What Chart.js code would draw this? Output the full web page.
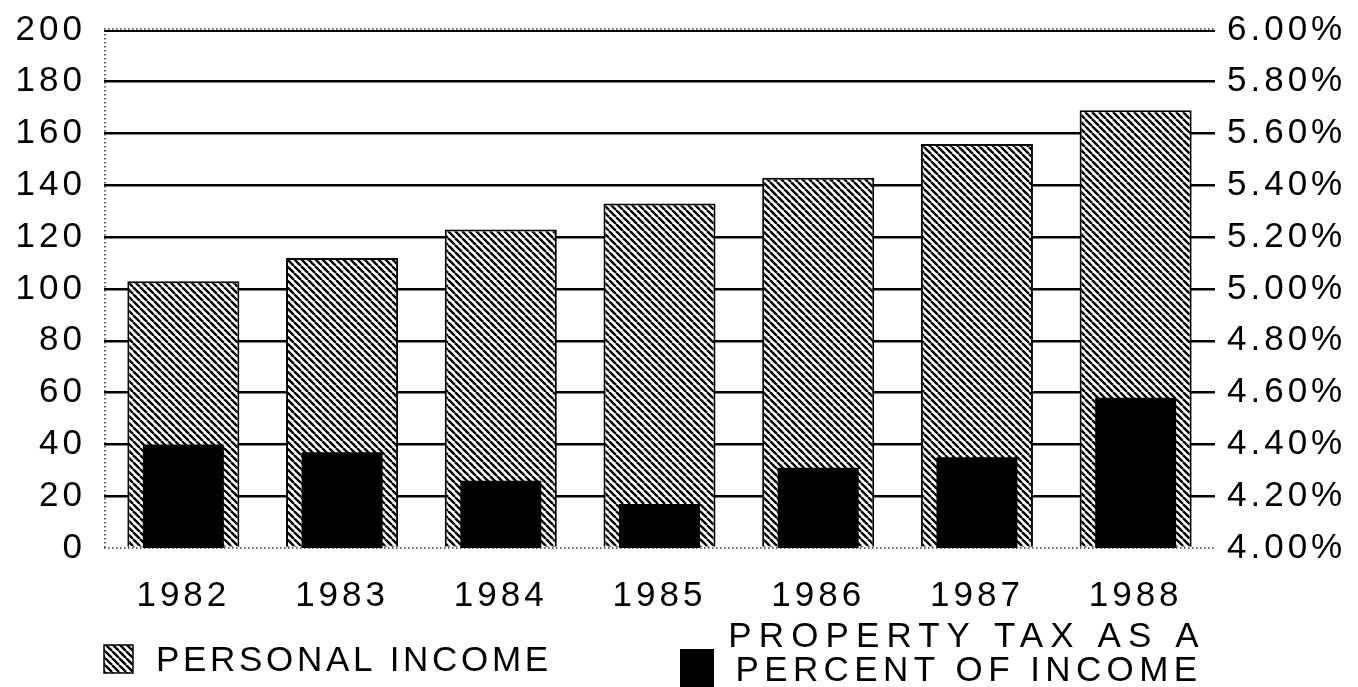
<!DOCTYPE html>
<html>
<head>
<meta charset="utf-8">
<script src="https://cdn.jsdelivr.net/npm/chart.js@4/dist/chart.umd.min.js"></script>
<style>
  html, body { margin: 0; padding: 0; background: #fff; }
  canvas { display: block; }
</style>
</head>
<body>
<canvas id="chart" width="1358" height="687"></canvas>
<script>
// data
const years = ['1982', '1983', '1984', '1985', '1986', '1987', '1988'];
const personalIncome = [103, 112, 123, 133, 143, 156, 169];
const taxPercent = [4.40, 4.37, 4.26, 4.17, 4.31, 4.35, 4.58];
const leftTicks = [0, 20, 40, 60, 80, 100, 120, 140, 160, 180, 200];
const rightTicks = [4.0, 4.2, 4.4, 4.6, 4.8, 5.0, 5.2, 5.4, 5.6, 5.8, 6.0];

const FONT = '"Liberation Sans", Arial, sans-serif';
const SPACING = '4px';

// diagonal hatch pattern (\\\)
function makeHatch() {
    const s = 7;
    const c = document.createElement('canvas');
    c.width = s; c.height = s;
    const g = c.getContext('2d');
    g.fillStyle = '#fff';
    g.fillRect(0, 0, s, s);
    g.strokeStyle = '#000';
    g.lineWidth = 2.4;
    g.beginPath();
    for (let k = -1; k <= 1; k++) {
        g.moveTo(k * s, 0);
        g.lineTo(k * s + s, s);
    }
    g.stroke();
    return g.createPattern(c, 'repeat');
}
const hatch = makeHatch();

// keep the plot top where the picture has it
function fixY(width) {
    return function (scale) {
        scale.width = width;
        scale.paddingTop = 0;
        scale.paddingBottom = 0;
    };
}

// dotted frame bits, legend + letter spacing
const framePlugin = {
    id: 'frame',
    beforeUpdate(chart) { chart.ctx.letterSpacing = SPACING; },
    beforeDraw(chart) { chart.ctx.letterSpacing = SPACING; },
    beforeDatasetsDraw(chart) {
        const ctx = chart.ctx;
        const a = chart.chartArea;
        const y = chart.scales.y;
        const top = y.getPixelForValue(200);
        const bot = y.getPixelForValue(0);
        ctx.save();
        ctx.strokeStyle = '#000';
        ctx.lineWidth = 2;
        ctx.beginPath();
        ctx.moveTo(a.left, top + 1);
        ctx.lineTo(a.right, top + 1);
        ctx.stroke();
        ctx.lineWidth = 1.5;
        ctx.setLineDash([1.5, 2.5]);
        ctx.strokeStyle = '#333';
        ctx.beginPath();
        ctx.moveTo(a.left, top - 1);
        ctx.lineTo(a.right, top - 1);
        ctx.moveTo(a.left, bot);
        ctx.lineTo(a.right, bot);
        ctx.moveTo(a.left + 1, top);
        ctx.lineTo(a.left + 1, bot);
        ctx.stroke();
        ctx.restore();
    },
    afterDraw(chart) {
        const ctx = chart.ctx;
        ctx.save();
        ctx.letterSpacing = '3.7px';
        ctx.font = '35px ' + FONT;
        ctx.textBaseline = 'middle';
        // personal income swatch
        ctx.fillStyle = hatch;
        ctx.fillRect(104, 645, 29, 28);
        ctx.strokeStyle = '#000';
        ctx.lineWidth = 1.5;
        ctx.strokeRect(104, 645, 29, 28);
        ctx.fillStyle = '#000';
        ctx.textAlign = 'left';
        ctx.fillText('PERSONAL INCOME', 156, 661);
        // property tax swatch
        ctx.fillRect(680, 649, 34, 38);
        ctx.textAlign = 'center';
        ctx.letterSpacing = '7.1px';
        ctx.fillText('PROPERTY TAX AS A', 967, 637);
        ctx.letterSpacing = '5.4px';
        ctx.fillText('PERCENT OF INCOME', 969, 671);
        ctx.restore();
    }
};

const ctx = document.getElementById('chart').getContext('2d');
new Chart(ctx, {
    type: 'bar',
    data: {
        labels: years,
        datasets: [{
            label: 'PROPERTY TAX AS A PERCENT OF INCOME',
            data: taxPercent,
            yAxisID: 'y1',
            backgroundColor: '#000',
            borderWidth: 0,
            grouped: false,
            barPercentage: 0.51,
            categoryPercentage: 1,
            order: 0
        }, {
            label: 'PERSONAL INCOME',
            data: personalIncome,
            yAxisID: 'y',
            backgroundColor: hatch,
            borderColor: '#000',
            borderWidth: 2,
            grouped: false,
            barPercentage: 0.706,
            categoryPercentage: 1,
            order: 1
        }]
    },
    options: {
        responsive: false,
        animation: false,
        layout: { padding: { top: 30, left: 0, right: 0, bottom: 0 } },
        plugins: {
            legend: { display: false },
            tooltip: { enabled: false }
        },
        scales: {
            x: {
                grid: { display: false },
                border: { display: false },
                ticks: {
                    color: '#000',
                    font: { family: FONT, size: 35 },
                    padding: 19,
                    maxRotation: 0
                },
                afterFit(scale) { scale.height = 139; }
            },
            y: {
                position: 'left',
                min: 0,
                max: 200,
                afterBuildTicks(scale) { scale.ticks = leftTicks.map(v => ({ value: v })); },
                grid: {
                    drawTicks: false,
                    color: c => (c.tick && (c.tick.value === 0 || c.tick.value === 200)) ? 'rgba(0,0,0,0)' : '#000',
                    lineWidth: 2.6
                },
                border: { display: false },
                ticks: {
                    color: '#000',
                    font: { family: FONT, size: 35 },
                    padding: 18
                },
                afterFit: fixY(104)
            },
            y1: {
                position: 'right',
                min: 4,
                max: 6,
                afterBuildTicks(scale) { scale.ticks = rightTicks.map(v => ({ value: v })); },
                grid: { display: false, drawTicks: false },
                border: { display: false },
                ticks: {
                    color: '#000',
                    font: { family: FONT, size: 35 },
                    padding: 12,
                    callback: v => Number(v).toFixed(2) + '%'
                },
                afterFit: fixY(143)
            }
        }
    },
    plugins: [framePlugin]
});
</script>
</body>
</html>
